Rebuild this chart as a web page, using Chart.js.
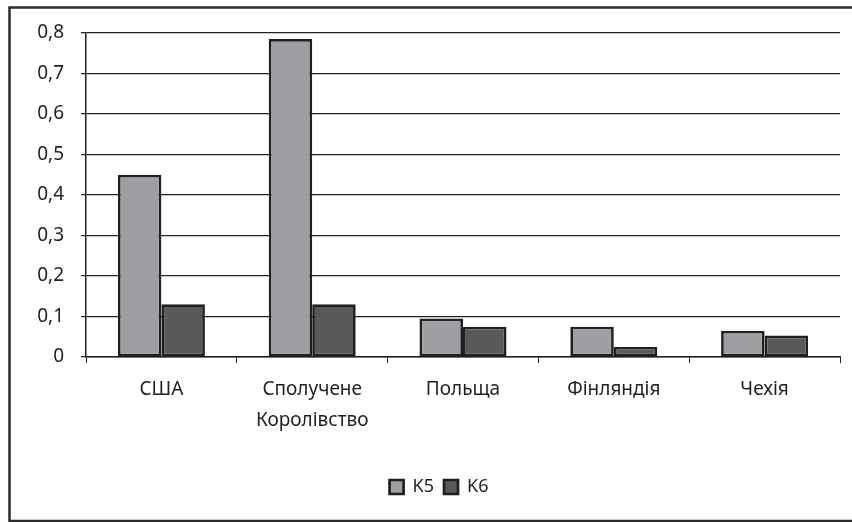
<!DOCTYPE html>
<html>
<head>
<meta charset="utf-8">
<script src="https://cdn.jsdelivr.net/npm/chart.js@4/dist/chart.umd.min.js"></script>
<style>
  html, body { margin: 0; padding: 0; background: #fff; }
  #wrap { width: 852px; height: 522px; }
</style>
</head>
<body>
<div id="wrap"><canvas id="c" width="852" height="522"></canvas></div>
<script>
// Categories (countries) and indicator values
const categories = ['США', ['Сполучене', 'Королівство'], 'Польща', 'Фінляндія', 'Чехія'];
const seriesK5 = [0.45, 0.785, 0.095, 0.075, 0.065];
const seriesK6 = [0.13, 0.13, 0.075, 0.025, 0.053];
const yTicks = [0, 0.1, 0.2, 0.3, 0.4, 0.5, 0.6, 0.7, 0.8];

const INK = '#231f20';
const FONT = '"Noto Sans", "Open Sans", sans-serif';

// Frame around the whole figure
const framePlugin = {
  id: 'frame',
  afterDraw(chart) {
    const ctx = chart.ctx;
    ctx.save();
    ctx.strokeStyle = '#2b2b2b';
    ctx.lineWidth = 2.5;
    ctx.beginPath();
    ctx.moveTo(852, 7.5);
    ctx.lineTo(9.5, 7.5);
    ctx.lineTo(9.5, 521);
    ctx.lineTo(852, 521);
    ctx.stroke();
    ctx.restore();
  }
};

// Nudge the legend a little to the right of the canvas centre
const legendShift = {
  id: 'legendShift',
  afterLayout(chart) {
    if (chart.legend) {
      chart.legend.left += 8;
      chart.legend.right += 8;
    }
  }
};

new Chart(document.getElementById('c'), {
  type: 'bar',
  data: {
    labels: categories,
    datasets: [
      {
        label: 'K5',
        data: seriesK5,
        backgroundColor: '#9d9fa2',
        borderColor: INK,
        borderWidth: 2.7,
        borderSkipped: false,
        categoryPercentage: 0.577,
        barPercentage: 1.0
      },
      {
        label: 'K6',
        data: seriesK6,
        backgroundColor: '#58595b',
        borderColor: INK,
        borderWidth: 2.7,
        borderSkipped: false,
        categoryPercentage: 0.577,
        barPercentage: 1.0
      }
    ]
  },
  options: {
    responsive: false,
    animation: false,
    layout: { padding: { left: 22, right: 12, top: 33, bottom: 16 } },
    plugins: {
      tooltip: { enabled: false },
      legend: {
        position: 'bottom',
        labels: {
          color: INK,
          font: { family: FONT, size: 18 },
          boxWidth: 14,
          boxHeight: 14,
          padding: 10
        }
      }
    },
    scales: {
      x: {
        grid: {
          offset: true,
          drawOnChartArea: false,
          drawTicks: true,
          tickLength: 6,
          color: INK,
          lineWidth: 1
        },
        border: { color: INK, width: 1.5 },
        ticks: {
          color: INK,
          font: { family: FONT, size: 19, lineHeight: 1.63 },
          padding: 11,
          maxRotation: 0,
          autoSkip: false
        },
        afterFit(scale) { scale.height = 111; }
      },
      y: {
        min: 0,
        max: 0.8,
        afterBuildTicks(scale) { scale.ticks = yTicks.map(v => ({ value: v })); },
        grid: {
          color: INK,
          lineWidth: 1.2,
          tickLength: 5
        },
        border: { color: INK, width: 1.5 },
        ticks: {
          color: INK,
          font: { family: FONT, size: 19 },
          padding: 17,
          callback(v) {
            const r = Math.round(v * 10) / 10;
            return r === 0 ? '0' : r.toFixed(1).replace('.', ',');
          }
        },
        afterFit(scale) { scale.width = 64; }
      }
    }
  },
  plugins: [framePlugin, legendShift]
});
</script>
</body>
</html>
